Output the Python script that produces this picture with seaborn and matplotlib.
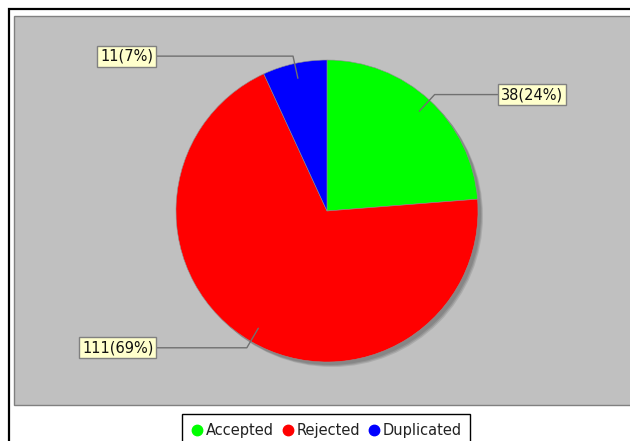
import numpy as np
import matplotlib
matplotlib.use('Agg')
import matplotlib.pyplot as plt
from matplotlib.patches import Rectangle, Circle
from matplotlib.lines import Line2D
import seaborn as sns

# data
status = ['Accepted', 'Rejected', 'Duplicated']
counts = [38, 111, 11]
colors = ['#00FF00', '#FF0000', '#0000FF']

sns.set_theme(style='white')
plt.rcParams['font.family'] = ['DejaVu Sans']

W, H = 630, 441
fig = plt.figure(figsize=(W / 100, H / 100), dpi=100)
ax = fig.add_axes([0, 0, 1, 1])

# frame + grey plot area (pixel layout, y measured from bottom)
ax.add_patch(Rectangle((9, -20), 700, H - 9 + 20, fill=False, ec='black', lw=1.6, zorder=0))
ax.add_patch(Rectangle((14, H - 405), 700, 405 - 16, fc='#C0C0C0', ec='#808080', lw=1, zorder=0))

cx, cy, R = 327, H - 211, 151

# soft shadow
for off, a in [(5, 0.25), (4, 0.35), (3, 0.4)]:
    ax.add_patch(Circle((cx + off, cy - off), R, fc='#707070', ec='none', alpha=a, zorder=1))

wedges, _ = ax.pie(counts, colors=colors, startangle=90, counterclock=False,
                   center=(cx, cy), radius=R, frame=True,
                   wedgeprops=dict(ec='#909090', lw=0.4))
for w in wedges:
    w.set_zorder(2)
ax.set_xlim(0, W)
ax.set_ylim(0, H)
ax.set_aspect('equal')
ax.axis('off')

total = sum(counts)
for w, n in zip(wedges, counts):
    mid = np.deg2rad((w.theta1 + w.theta2) / 2)
    px, py = cx + 0.9 * R * np.cos(mid), cy + 0.9 * R * np.sin(mid)
    ex, ey = cx + 1.05 * R * np.cos(mid), cy + 1.05 * R * np.sin(mid)
    right = np.cos(mid) >= 0
    lx = cx + 1.13 * R if right else cx - 1.13 * R
    ax.plot([px, ex, lx], [py, ey, ey], color='#707070', lw=1, zorder=3)
    ax.text(lx + (3 if right else -3), ey, f'{n}({n / total * 100:.0f}%)',
            ha='left' if right else 'right', va='center', fontsize=10.5,
            color='#111111', zorder=4,
            bbox=dict(boxstyle='square,pad=0.2', fc='#FFFFCC', ec='#808080', lw=1))

handles = [Line2D([], [], marker='o', ls='', color=c, markersize=7.5) for c in colors]
fig.legend(handles, status, loc='upper center', bbox_to_anchor=(326 / W, 1 - 414 / H),
           ncol=3, fontsize=10.5, frameon=True, fancybox=False, edgecolor='black',
           handletextpad=0.15, columnspacing=0.5, handlelength=0.9, borderpad=0.6,
           borderaxespad=0, framealpha=1, labelcolor='#222222')

fig.savefig('out.png', dpi=100)
